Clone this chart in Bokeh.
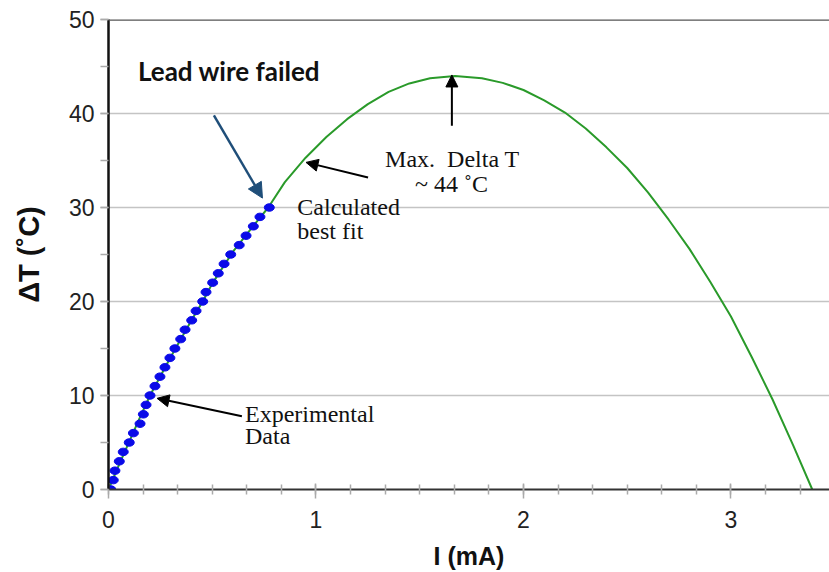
from bokeh.plotting import figure
from bokeh.models import Range1d, SingleIntervalTicker, Arrow, NormalHead, Label, Span
from bokeh.embed import file_html
from bokeh.resources import INLINE

# Experimental data (current in mA, temperature difference in C)
exp_current = [0.011, 0.023, 0.031, 0.052, 0.071, 0.100, 0.120, 0.152, 0.168, 0.181,
               0.200, 0.224, 0.248, 0.272, 0.296, 0.320, 0.348, 0.369, 0.401, 0.422,
               0.454, 0.470, 0.502, 0.529, 0.557, 0.589, 0.630, 0.663, 0.698, 0.730, 0.775]
exp_delta_t = [0, 1, 2, 3, 4, 5, 6, 7, 8, 9, 10, 11, 12, 13, 14, 15, 16, 17, 18, 19,
               20, 21, 22, 23, 24, 25, 26, 27, 28, 29, 30]

# Calculated best fit curve
fit_current = [0.0, 0.05, 0.1, 0.15, 0.2, 0.3, 0.4, 0.454, 0.5, 0.6, 0.7, 0.77, 0.85,
               0.95, 1.05, 1.15, 1.25, 1.35, 1.45, 1.55, 1.67, 1.8, 1.9, 2.0, 2.1,
               2.2, 2.3, 2.4, 2.5, 2.6, 2.7, 2.8, 2.9, 3.0, 3.1, 3.2, 3.3, 3.392]
fit_delta_t = [0.0, 2.6, 5.1, 7.6, 10.0, 14.1, 18.0, 20.0, 21.9, 25.3, 28.1, 30.0, 32.7,
               35.3, 37.5, 39.4, 41.0, 42.3, 43.2, 43.75, 44.0, 43.76, 43.26, 42.5, 41.4,
               40.1, 38.4, 36.4, 34.2, 31.6, 28.7, 25.6, 22.1, 18.4, 14.1, 9.6, 4.7, 0.0]

x_ticks = [0, 1, 2, 3]
y_ticks = [0, 10, 20, 30, 40, 50]

p = figure(width=829, height=572, output_backend="svg", toolbar_location=None,
           x_range=Range1d(0, 3.475), y_range=Range1d(0, 50),
           min_border_left=108, min_border_right=0, min_border_top=19, min_border_bottom=83)
p.outline_line_color = None
p.background_fill_color = "white"
p.border_fill_color = "white"

# grid
p.xgrid.visible = False
p.ygrid.ticker = SingleIntervalTicker(interval=10)
p.ygrid.grid_line_color = "#c4c4c4"
p.ygrid.grid_line_width = 1.6

p.add_layout(Span(location=50, dimension="width", line_color="#555555", line_width=2.5))

# axes
p.xaxis.ticker = SingleIntervalTicker(interval=1, num_minor_ticks=6)
p.yaxis.ticker = SingleIntervalTicker(interval=10, num_minor_ticks=2)
for ax in (p.xaxis, p.yaxis):
    ax.major_label_text_font = "Liberation Sans"
    ax.major_label_text_font_size = "23px"
    ax.major_label_text_color = "#222222"
    ax.axis_label_text_font = "Liberation Sans"
    ax.axis_label_text_font_style = "bold"
    ax.axis_label_text_color = "#111111"
    ax.major_tick_line_color = "#aaaaaa"
    ax.minor_tick_line_color = "#aaaaaa"
    ax.major_tick_line_width = 1.5
    ax.minor_tick_line_width = 1.5

p.xaxis.axis_line_color = "#333333"
p.xaxis.axis_line_width = 2
p.xaxis.major_tick_in = 6
p.xaxis.major_tick_out = 9
p.xaxis.minor_tick_in = 5
p.xaxis.minor_tick_out = 5
p.xaxis.major_label_standoff = 12
p.xaxis.axis_label = "I (mA)"
p.xaxis.axis_label_text_font_size = "25px"
p.xaxis.axis_label_standoff = 11

p.yaxis.axis_line_color = "#111111"
p.yaxis.axis_line_width = 2.5
p.yaxis.major_tick_in = 0
p.yaxis.major_tick_out = 8
p.yaxis.minor_tick_in = 0
p.yaxis.minor_tick_out = 8
p.yaxis.major_label_standoff = 6
p.yaxis.axis_label = "ΔT (˚C)"
p.yaxis.axis_label_text_font_size = "29px"
p.yaxis.axis_label_standoff = 21

# curve and data
p.line(fit_current, fit_delta_t, line_color="#2a9a2a", line_width=2)
p.ellipse(exp_current, exp_delta_t, width=10, height=7.5,
          width_units="screen", height_units="screen",
          fill_color="#0a0ae8", line_color="#0a0ae8")

# arrows
def arrow(x0, y0, x1, y1, color, width, size):
    p.add_layout(Arrow(end=NormalHead(size=size, fill_color=color, line_color=color),
                       x_start=x0, y_start=y0, x_end=x1, y_end=y1,
                       line_color=color, line_width=width))

arrow(0.508, 39.8, 0.742, 31.0, "#1f4e79", 2.5, 15)
arrow(1.251, 33.2, 0.952, 34.8, "#000000", 2, 12)
arrow(1.655, 38.7, 1.655, 44.1, "#000000", 2, 12)
arrow(0.643, 7.8, 0.234, 9.7, "#000000", 2, 12)

# labels
def label(x, y, text, font, size, style="normal"):
    p.add_layout(Label(x=x, y=y, text=text, text_font=font, text_font_size=size,
                       text_font_style=style, text_color="#111111",
                       text_baseline="alphabetic", text_align="left"))

label(0.142, 44.5, "Lead wire failed", "Lato", "26px", "bold")
label(0.910, 30.1, "Calculated", "Liberation Serif", "24px")
label(0.910, 27.5, "best fit", "Liberation Serif", "24px")
label(1.333, 35.2, "Max.\u00a0\u00a0Delta T", "Liberation Serif", "24px")
label(1.477, 32.55, "~ 44 ˚C", "Liberation Serif", "24px")
label(0.658, 7.98, "Experimental", "Liberation Serif", "24px")
label(0.658, 5.64, "Data", "Liberation Serif", "24px")

open("out.html", "w").write(file_html(p, INLINE))
